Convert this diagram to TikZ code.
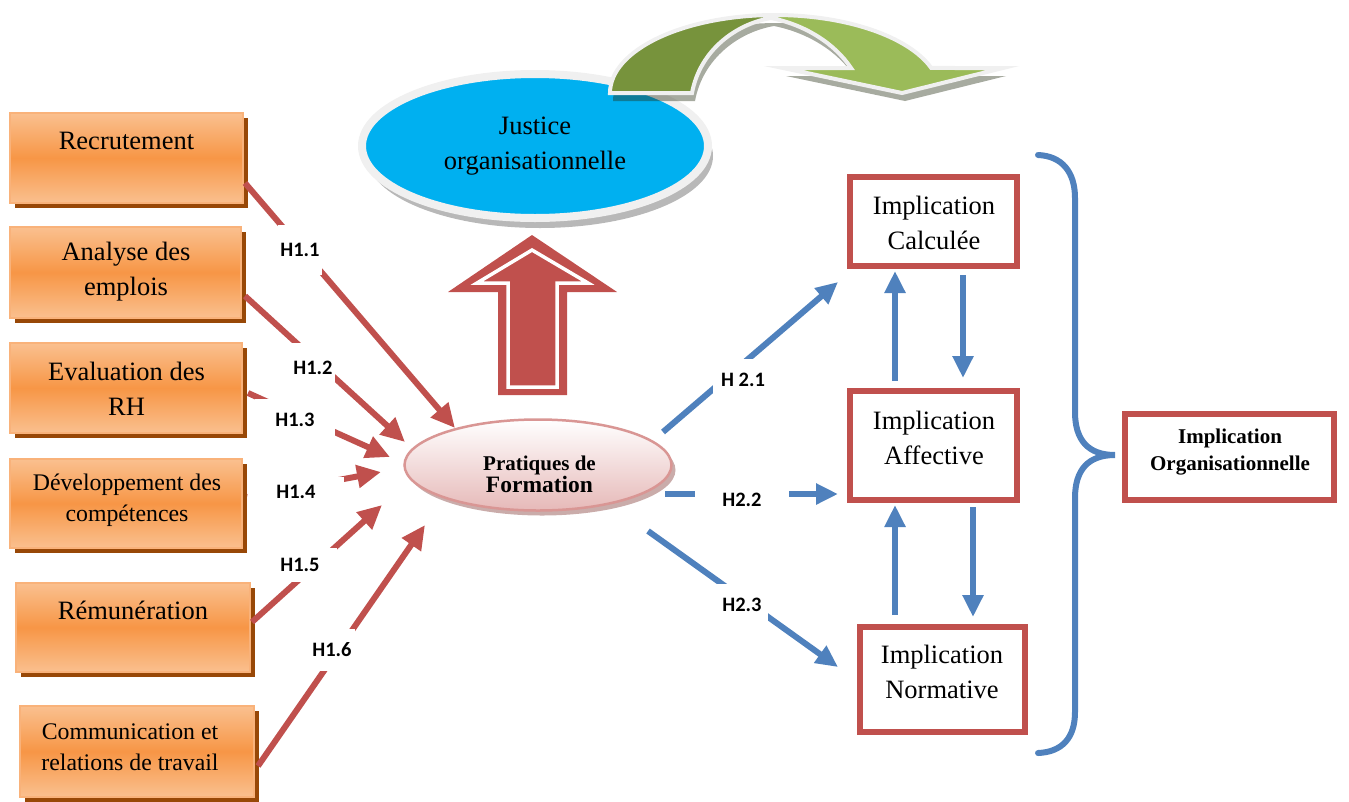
\documentclass[tikz,border=0pt]{standalone}
\usepackage{fontspec}
\setmainfont{Liberation Serif}
\newfontfamily\labelfont{Carlito}
\usetikzlibrary{arrows.meta,shadows,calc,shapes.geometric}

\definecolor{orgL}{HTML}{FAC08F}
\definecolor{orgM}{HTML}{F79646}
\definecolor{orgB}{HTML}{F9B27A}
\definecolor{orgS}{HTML}{984807}
\definecolor{redA}{HTML}{C0504D}
\definecolor{blueA}{HTML}{4F81BD}
\definecolor{greenD}{HTML}{77933C}
\definecolor{greenL}{HTML}{9BBB59}
\definecolor{cyanA}{HTML}{00B0F0}
\definecolor{justB}{HTML}{F0F0F0}
\definecolor{pinkA}{HTML}{E6B9B8}
\definecolor{pinkB}{HTML}{D99694}
\definecolor{pinkS}{HTML}{A67472}

\begin{document}
\begin{tikzpicture}[x=1pt,y=-1pt,
  hbox/.style={rectangle, draw=orgB, line width=1.5pt, top color=orgL, bottom color=orgL,
    middle color=orgM, inner sep=0pt,
    drop shadow={shadow xshift=5pt, shadow yshift=-5pt, fill=orgS, opacity=1}},
  btext/.style={align=center, font=\fontsize{26.5}{35}\selectfont, inner sep=0pt},
  stext/.style={align=center, font=\fontsize{23.8}{31}\selectfont, inner sep=0pt},
  ibox/.style={rectangle, draw=redA, line width=6pt, fill=white, inner sep=0pt},
  hyp/.style={font=\labelfont\bfseries\fontsize{20.5}{24}\selectfont, fill=white, inner sep=0pt},
  redln/.style={draw=redA, line width=6pt, -{Triangle[width=22pt,length=24pt]}},
  blueln/.style={draw=blueA, line width=6pt, -{Triangle[width=20pt,length=22pt]}},
]
\useasboundingbox (0,0) rectangle (1349,801);

% ---- hollow red arrow pointing to the justice ellipse
\fill[redA] (532,235) -- (617,292) -- (567,292) -- (567,395) -- (498,395)
  -- (498,292) -- (448,292) -- cycle;
\draw[white, line width=3.5pt, line join=miter] (532,250) -- (588,283) -- (557,283)
  -- (557,387) -- (508,387) -- (508,283) -- (477,283) -- cycle;

% ---- justice ellipse
\node[ellipse, fill=cyanA, draw=justB, line width=8pt, minimum width=346pt,
  minimum height=144pt, inner sep=0pt, align=center,
  font=\fontsize{26.5}{35}\selectfont,
  drop shadow={shadow xshift=5pt, shadow yshift=-10pt, fill=black!28, opacity=1}]
  (just) at (535,146) {Justice\\organisationnelle};

% ---- curved green arrow (dark back part, light front part)
\def\greenarrow{(610,93) arc[start angle=180,end angle=341.3,x radius=165,y radius=78]
  -- (1003,68) -- (902,93) -- (783,68) -- (851,68)
  .. controls (835,44) and (806,25) .. (771,18)
  .. controls (736,24) and (700,50) .. (692,93) -- cycle}
\fill[black!70!greenD, opacity=0.4, shift={(3,8)}] \greenarrow;
\fill[justB] \greenarrow;
\begin{scope}
  \clip (590,0) rectangle (763,120);
  \fill[greenD] \greenarrow;
\end{scope}
\begin{scope}
  \clip (777,0) rectangle (1010,120);
  \fill[greenL] \greenarrow;
\end{scope}
\draw[justB, line width=4pt, line join=miter] \greenarrow;

% ---- left boxes (HR practices)
\node[hbox, minimum width=233pt, minimum height=90pt] (rec) at (126.5,158) {};
\node[btext] (rec-t) at (126.5,141) {Recrutement};
\node[hbox, minimum width=231pt, minimum height=91pt] (an) at (125.5,272.5) {};
\node[btext] (an-t) at (126,272) {Analyse des\\emplois};
\node[hbox, minimum width=232pt, minimum height=90pt] (ev) at (126,388) {};
\node[btext] (ev-t) at (126.5,389) {Evaluation des\\RH};
\node[hbox, minimum width=232pt, minimum height=89pt] (dev) at (126,503.5) {};
\node[stext] (dev-t) at (127,500.5) {Développement des\\compétences};
\node[hbox, minimum width=234pt, minimum height=89pt] (rem) at (133,627.5) {};
\node[btext] (rem-t) at (133,610) {Rémunération};
\node[hbox, minimum width=234pt, minimum height=91pt] (com) at (137,751.5) {};
\node[stext] (com-t) at (130,747.5) {Communication et\\relations de travail};

% ---- central ellipse
\node[ellipse, draw=pinkB, line width=2.5pt, top color=white, bottom color=pinkA,
  minimum width=267pt, minimum height=91pt, inner sep=0pt,
  drop shadow={shadow xshift=4pt, shadow yshift=-5pt, fill=pinkS, opacity=0.6}]
  (form) at (538,465) {};
\node[align=center, inner sep=0pt, font=\bfseries] (form-t) at (539.5,474)
  {\fontsize{21}{30}\selectfont Pratiques de\\\fontsize{23.5}{30}\selectfont Formation};

% ---- commitment boxes
\node[ibox, minimum width=167pt, minimum height=89pt] (calc) at (933.5,221.5) {};
\node[btext] (calc-t) at (934,223) {Implication\\Calculée};
\node[ibox, minimum width=167pt, minimum height=109pt] (aff) at (933.5,445.5) {};
\node[btext] (aff-t) at (934,437.5) {Implication\\Affective};
\node[ibox, minimum width=165pt, minimum height=105pt] (norm) at (942.5,679.5) {};
\node[btext] (norm-t) at (942,672) {Implication\\Normative};
\node[ibox, minimum width=209pt, minimum height=86pt] (org) at (1229.5,457) {};
\node[align=center, inner sep=0pt, font=\bfseries\fontsize{21}{27}\selectfont]
  (org-t) at (1230,452.5) {Implication\\Organisationnelle};

% ---- hypotheses H1
\draw[redln] ($(rec.center)+(118.5,25)$) -- ($(form.center)+(-83,-37)$);
\draw[redln] ($(an.center)+(119.5,23.5)$) -- ($(form.center)+(-133,-23)$);
\draw[redln] ($(ev.center)+(122,5)$) -- ($(form.center)+(-148,-8)$);
\draw[redln] ($(dev.center)+(122,-6.5)$) -- ($(form.center)+(-157,7)$);
\draw[redln] ($(rem.center)+(119,-5.5)$) -- ($(form.center)+(-156,40)$);
\draw[redln] ($(com.center)+(121,14.5)$) -- ($(form.center)+(-113,60)$);

\node[hyp, inner xsep=2pt, inner ysep=18pt] (h11) at (300,250) {H1.1};
\node[hyp, inner xsep=2pt, inner ysep=18pt] (h12) at (313,368) {H1.2};
\node[hyp, inner xsep=20pt, inner ysep=14pt] (h13) at (295,420) {H1.3};
\node[hyp, inner xsep=28pt, inner ysep=8pt] (h14) at (296,492) {H1.4};
\node[hyp, inner xsep=17pt, inner ysep=10pt] (h15) at (300,565) {H1.5};
\node[hyp, inner xsep=3pt, inner ysep=14pt] (h16) at (332,650) {H1.6};

% ---- hypotheses H2
\draw[blueln] ($(form.center)+(125,-33)$) -- ($(calc.center)+(-95.5,60.5)$);
\draw[blueln] ($(form.center)+(127,29)$) -- ($(aff.center)+(-95.5,48.5)$);
\draw[blueln] ($(form.center)+(110,66)$) -- ($(norm.center)+(-104.5,-12.5)$);

\node[hyp, inner xsep=8pt, inner ysep=14pt] (h21) at (743,380) {H 2.1};
\node[hyp, inner xsep=27pt, inner ysep=4pt] (h22) at (742,500) {H2.2};
\node[hyp, inner xsep=6pt, inner ysep=14pt] (h23) at (742,605) {H2.3};

% ---- links between the three components
\draw[blueln] ($(calc.center)+(29.5,53.5)$) -- ($(aff.center)+(29.5,-67.5)$);
\draw[blueln] ($(aff.center)+(-38.5,-64.5)$) -- ($(calc.center)+(-38.5,49.5)$);
\draw[blueln] ($(aff.center)+(39.5,61.5)$) -- ($(norm.center)+(30.5,-62.5)$);
\draw[blueln] ($(norm.center)+(-47.5,-64.5)$) -- ($(aff.center)+(-38.5,59.5)$);

% ---- brace grouping the components
\draw[blueA, line width=6pt, line cap=round, line join=miter]
  (1038,155) .. controls (1062,156) and (1075,172) .. (1075,198) -- (1075,412)
  .. controls (1075,440) and (1088,455) .. (1115,455)
  .. controls (1088,455) and (1075,470) .. (1075,498) -- (1075,712)
  .. controls (1075,738) and (1062,752) .. (1038,753);
\end{tikzpicture}
\end{document}
